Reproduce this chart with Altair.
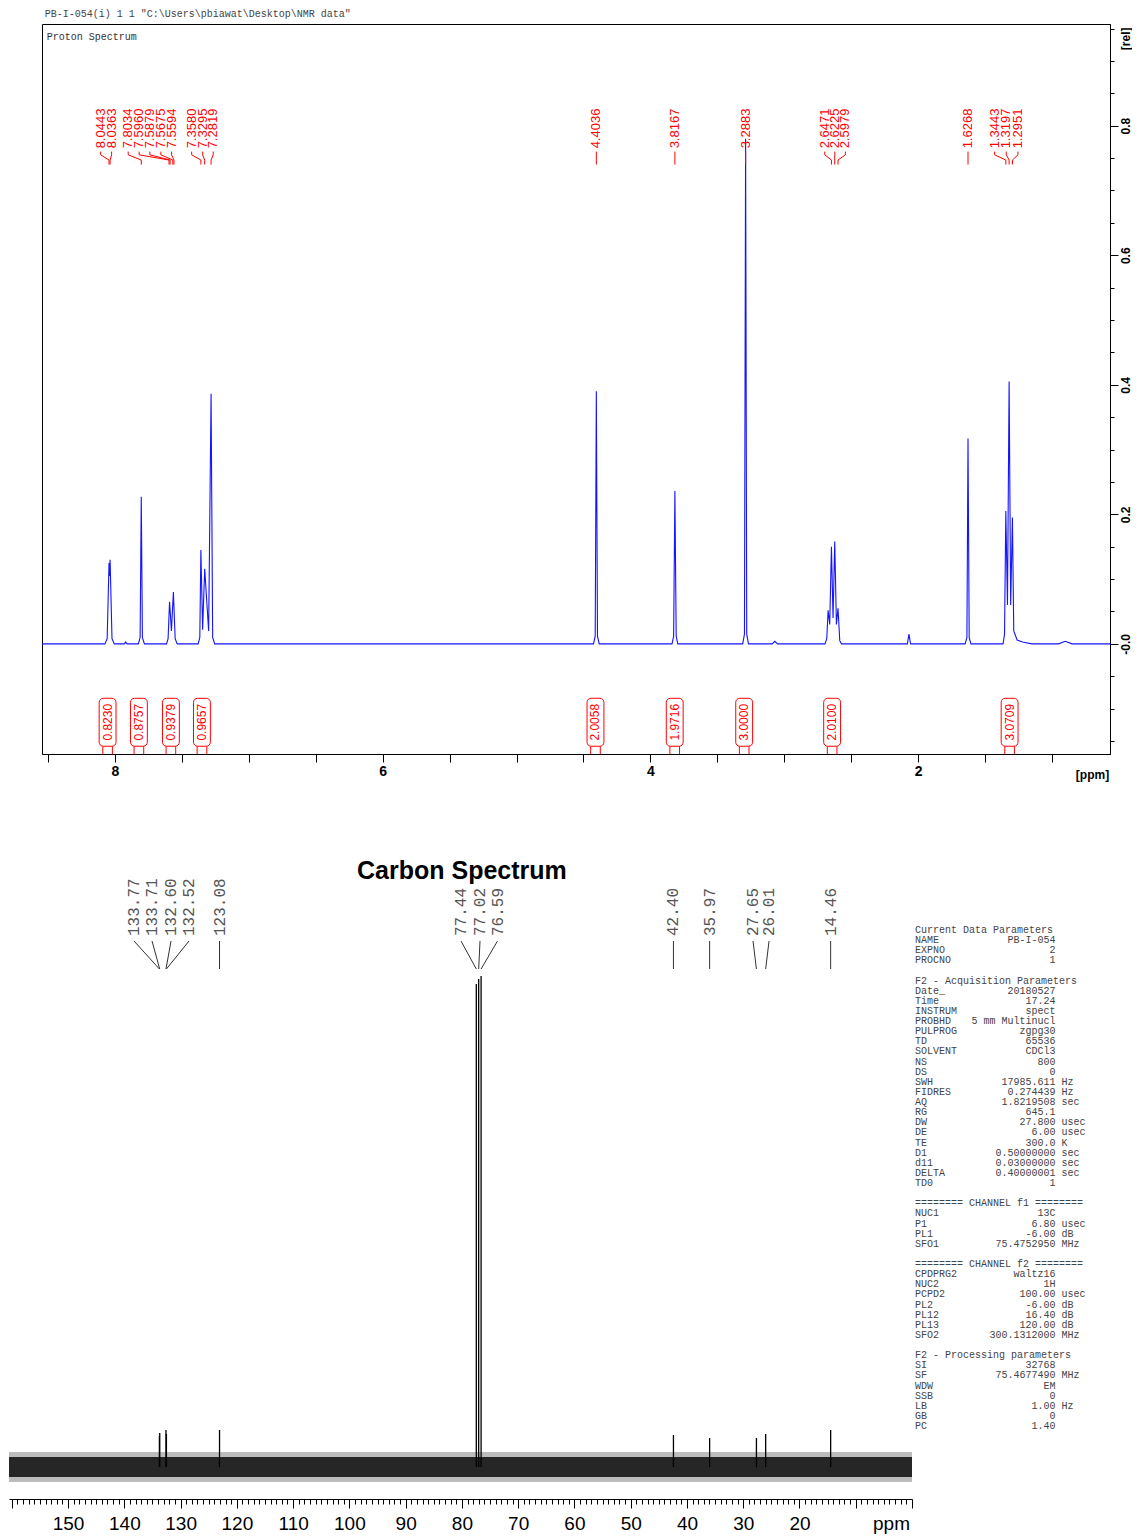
import altair as alt
import pandas as pd

# ---------------- Proton (1H) spectrum ----------------
# trace vertices (ppm, relative intensity)
h_trace_ppm = [8.545, 8.075, 8.058, 8.0443, 8.0403, 8.0363, 8.022, 8.005, 7.93, 7.92, 7.91,
               7.825, 7.812, 7.8034, 7.795, 7.78, 7.615, 7.603, 7.592, 7.578, 7.5635, 7.550, 7.535,
               7.378, 7.366, 7.358, 7.345, 7.3295, 7.300, 7.2819, 7.270, 7.255,
               4.425, 4.412, 4.4036, 4.395, 4.382, 3.838, 3.826, 3.8167, 3.807, 3.795,
               3.310, 3.297, 3.2883, 3.280, 3.267, 3.09, 3.07, 3.05,
               2.695, 2.682, 2.672, 2.660, 2.6471, 2.635, 2.6225, 2.610, 2.5979, 2.585, 2.572,
               2.080, 2.068, 2.056, 1.648, 1.635, 1.6268, 1.618, 1.605,
               1.365, 1.354, 1.3443, 1.332, 1.3197, 1.308, 1.2951, 1.285, 1.26, 1.22, 1.15,
               0.95, 0.90, 0.85, 0.56]
h_trace_int = [0.0, 0.0, 0.008, 0.125, 0.105, 0.130, 0.008, 0.0, 0.0, 0.003, 0.0,
               0.0, 0.010, 0.227, 0.010, 0.0, 0.0, 0.008, 0.065, 0.020, 0.080, 0.008, 0.0,
               0.0, 0.010, 0.145, 0.022, 0.116, 0.020, 0.386, 0.010, 0.0,
               0.0, 0.012, 0.390, 0.012, 0.0, 0.0, 0.012, 0.236, 0.012, 0.0,
               0.0, 0.015, 0.780, 0.015, 0.0, 0.0, 0.004, 0.0,
               0.0, 0.008, 0.052, 0.030, 0.150, 0.040, 0.158, 0.030, 0.055, 0.005, 0.0,
               0.0, 0.015, 0.0, 0.0, 0.010, 0.317, 0.010, 0.0,
               0.0, 0.015, 0.205, 0.060, 0.405, 0.060, 0.195, 0.020, 0.006, 0.003, 0.0,
               0.0, 0.004, 0.0, 0.0]

h_label_text = ["8.0443", "8.0363", "7.8034", "7.5960", "7.5879", "7.5675", "7.5594",
                "7.3580", "7.3295", "7.2819", "4.4036", "3.8167", "3.2883",
                "2.6471", "2.6225", "2.5979", "1.6268", "1.3443", "1.3197", "1.2951"]
h_label_ppm = [8.107, 8.025, 7.901, 7.819, 7.739, 7.657, 7.577,
               7.427, 7.345, 7.266, 4.4036, 3.8167, 3.2883,
               2.697, 2.622, 2.543, 1.6268, 1.428, 1.341, 1.254]

h_int_text = ["0.8230", "0.8757", "0.9379", "0.9657", "2.0058", "1.9716", "3.0000", "2.0100", "3.0709"]
h_int_ppm = [8.055, 7.821, 7.582, 7.350, 4.410, 3.818, 3.299, 2.642, 1.316]

h_xticks = [1.0, 1.5, 2.0, 2.5, 3.0, 3.5, 4.0, 4.5, 5.0, 5.5, 6.0, 6.5, 7.0, 7.5, 8.0, 8.5]
h_yticks = [-0.15, -0.1, -0.05, 0.0, 0.05, 0.1, 0.15, 0.2, 0.25, 0.3, 0.35, 0.4, 0.45,
            0.5, 0.55, 0.6, 0.65, 0.7, 0.75, 0.8, 0.85, 0.9, 0.95]

header_text = r'PB-I-054(i)  1  1  "C:\Users\pbiawat\Desktop\NMR data"'

# ---------------- Carbon (13C) spectrum ----------------
c_peak_ppm = [133.77, 133.71, 132.60, 132.52, 123.08, 77.44, 77.02, 76.59, 42.40, 35.97, 27.65, 26.01, 14.46]
c_peak_int = [6.2, 6.8, 7.4, 6.6, 7.4, 96.6, 97.6, 98.2, 6.4, 5.8, 5.8, 6.6, 7.4]
c_label_text = ["133.77", "133.71", "132.60", "132.52", "123.08", "77.44", "77.02", "76.59",
                "42.40", "35.97", "27.65", "26.01", "14.46"]
c_label_ppm = [138.28, 135.08, 131.70, 128.50, 123.08, 80.16, 76.78, 73.67,
               42.40, 35.97, 28.26, 25.41, 14.46]
c_noise_core = 2.0
c_noise_spikes = 3.0

# ---------------- acquisition parameters ----------------
p_name = ["Current Data Parameters", "NAME", "EXPNO", "PROCNO", "",
          "F2 - Acquisition Parameters", "Date_", "Time", "INSTRUM", "PROBHD", "PULPROG", "TD",
          "SOLVENT", "NS", "DS", "SWH", "FIDRES", "AQ", "RG", "DW", "DE", "TE", "D1", "d11",
          "DELTA", "TD0", "",
          "======== CHANNEL f1 ========", "NUC1", "P1", "PL1", "SFO1", "",
          "======== CHANNEL f2 ========", "CPDPRG2", "NUC2", "PCPD2", "PL2", "PL12", "PL13", "SFO2", "",
          "F2 - Processing parameters", "SI", "SF", "WDW", "SSB", "LB", "GB", "PC"]
p_value = ["", "PB-I-054", "2", "1", "",
           "", "20180527", "17.24", "spect", "5 mm Multinucl", "zgpg30", "65536",
           "CDCl3", "800", "0", "17985.611", "0.274439", "1.8219508", "645.1", "27.800", "6.00", "300.0",
           "0.50000000", "0.03000000", "0.40000001", "1", "",
           "", "13C", "6.80", "-6.00", "75.4752950", "",
           "", "waltz16", "1H", "100.00", "-6.00", "16.40", "120.00", "300.1312000", "",
           "", "32768", "75.4677490", "EM", "0", "1.00", "0", "1.40"]
p_unit = ["", "", "", "", "",
          "", "", "", "", "", "", "",
          "", "", "", "Hz", "Hz", "sec", "", "usec", "usec", "K",
          "sec", "sec", "sec", "", "",
          "", "", "usec", "dB", "MHz", "",
          "", "", "", "usec", "dB", "dB", "dB", "MHz", "",
          "", "", "MHz", "", "", "Hz", "", ""]

# ======================================================
RED = "#ff0000"
MONO = "Liberation Mono"
NARROW = "Liberation Sans Narrow, Liberation Sans, Arial"

# ---- proton chart ----
h_xaxis = alt.Axis(values=h_xticks, labelExpr="datum.value % 2 === 0 ? format(datum.value, 'd') : ''",
                   tickSize=8, tickColor="black", domainColor="black", labelColor="black",
                   labelFont=NARROW, labelFontSize=14, labelFontWeight="bold", labelPadding=2,
                   labelOverlap=False, labelFlush=False, grid=False,
                   title="[ppm]", titleX=1050, titleY=15, titleAlign="center", titleBaseline="top",
                   titleFont=NARROW, titleFontSize=12, titleFontWeight="bold", titleColor="black")
h_yaxis = alt.Axis(orient="right", values=h_yticks,
                   labelExpr="(abs(datum.value*5 - round(datum.value*5)) < 0.001 && datum.value >= 0) ? (datum.value == 0 ? '-0.0' : format(datum.value, '.1f')) : ''",
                   tickSize={"condition": {"test": "abs(datum.value*5 - round(datum.value*5)) < 0.001", "value": 8}, "value": 4},
                   tickColor="black", domainColor="black", labelColor="black",
                   labelAngle=270, labelAlign="center", labelBaseline="top", labelPadding=2,
                   labelFont=NARROW, labelFontSize=12, labelFontWeight="bold",
                   labelOverlap=False, labelFlush=False, grid=False,
                   title="[rel]", titleAngle=270, titleX=10, titleY=3, titleAlign="right",
                   titleBaseline="top", titleFont=NARROW, titleFontSize=12, titleFontWeight="bold",
                   titleColor="black")
h_xscale = alt.Scale(domain=[8.545, 0.566], nice=False, zero=False)
h_yscale = alt.Scale(domain=[-0.17, 0.957], nice=False, zero=False)


def hX(f):
    return alt.X(f"{f}:Q", scale=h_xscale, axis=h_xaxis)


def hY(f):
    return alt.Y(f"{f}:Q", scale=h_yscale, axis=h_yaxis)


h_trace = pd.DataFrame({"ppm": h_trace_ppm, "v": h_trace_int})
line_h = alt.Chart(h_trace).mark_line(color="#1414ff", strokeWidth=1.1).encode(x=hX("ppm"), y=hY("v"))

conn_rows = []
for i, (t, lp) in enumerate(zip(h_label_text, h_label_ppm)):
    pk = float(t)
    for k, (xx, yy) in enumerate([(lp, 0.760), (lp, 0.755), (pk, 0.747), (pk, 0.740)]):
        conn_rows.append({"id": i, "k": k, "ppm": xx, "v": yy})
conn_h = alt.Chart(pd.DataFrame(conn_rows)).mark_line(color=RED, strokeWidth=1).encode(
    x=hX("ppm"), y=hY("v"), detail="id:N", order="k:Q")

lab_h = alt.Chart(pd.DataFrame({"ppm": h_label_ppm, "v": [0.765] * len(h_label_ppm), "t": h_label_text})).mark_text(
    angle=270, align="left", baseline="middle", color=RED, font="Liberation Sans", fontSize=13
).encode(x=hX("ppm"), y=hY("v"), text="t:N")

int_df = pd.DataFrame({"c": h_int_ppm, "t": h_int_text})
int_df["x0"] = int_df["c"] + 0.063
int_df["x1"] = int_df["c"] - 0.063
int_df["y0"] = -0.158
int_df["y1"] = -0.084
int_df["ym"] = -0.121
box_h = alt.Chart(int_df).mark_rect(fillOpacity=0, stroke=RED, strokeWidth=1, cornerRadius=4).encode(
    x=hX("x0"), x2="x1", y=hY("y0"), y2="y1")
leg_rows = []
for c in h_int_ppm:
    for d in (0.036, -0.036):
        leg_rows.append({"ppm": c + d, "a": -0.158, "b": -0.170})
legs_h = alt.Chart(pd.DataFrame(leg_rows)).mark_rule(color=RED, strokeWidth=1).encode(
    x=hX("ppm"), y=hY("a"), y2="b")
itext_h = alt.Chart(int_df).mark_text(angle=270, align="center", baseline="middle", color=RED,
                                      font="Liberation Sans", fontSize=12).encode(
    x=hX("c"), y=hY("ym"), text="t:N")

ps_h = alt.Chart(pd.DataFrame({"ppm": [8.51], "v": [0.937], "t": ["Proton Spectrum"]})).mark_text(
    align="left", baseline="middle", font=MONO, fontSize=10, color="#333").encode(
    x=hX("ppm"), y=hY("v"), text="t:N")

proton = alt.layer(line_h, box_h, legs_h, itext_h, conn_h, lab_h, ps_h).properties(
    width=1068, height=730,
    view=alt.ViewBackground(stroke="black", strokeWidth=1),
    title=alt.TitleParams(header_text, anchor="start", dx=5, offset=5, font=MONO, fontSize=10,
                          fontWeight="normal", color="#444"))

spacer = alt.Chart(pd.DataFrame({"a": [0]})).mark_rect(opacity=0).encode(
    x=alt.value(0), x2=alt.value(29), y=alt.value(0), y2=alt.value(5)).properties(width=29, height=5)

row1 = alt.hconcat(spacer, proton, spacing=0)

# ---- carbon chart ----
c_xaxis = alt.Axis(values=list(range(0, 161)),
                   labelExpr="(datum.value % 10 === 0 && datum.value >= 20 && datum.value <= 150) ? datum.label : ''",
                   tickSize={"condition": {"test": "datum.value % 10 === 0", "value": 9}, "value": 5},
                   tickColor="black", domainColor="black", labelColor="black",
                   labelFont=NARROW, labelFontSize=19, labelPadding=6,
                   labelOverlap=False, labelFlush=False, grid=False,
                   title="ppm", titleX=882, titleY=15, titleAlign="center", titleBaseline="top",
                   titleFont=NARROW, titleFontSize=19, titleFontWeight="normal", titleColor="black")
c_xscale = alt.Scale(domain=[160.5, 0], nice=False, zero=False)
c_yscale = alt.Scale(domain=[-6.4, 123.6], nice=False, zero=False)


def cX(f):
    return alt.X(f"{f}:Q", scale=c_xscale, axis=c_xaxis)


def cY(f):
    return alt.Y(f"{f}:Q", scale=c_yscale, axis=None)


band_df = pd.DataFrame({"ppm": [160.5, 0.0],
                        "lo": [-c_noise_core] * 2, "hi": [c_noise_core] * 2,
                        "lo2": [-c_noise_spikes] * 2, "hi2": [c_noise_spikes] * 2})
band2 = alt.Chart(band_df).mark_area(color="#222222", opacity=0.3).encode(x=cX("ppm"), y=cY("lo2"), y2="hi2")
band = alt.Chart(band_df).mark_area(color="#111111", opacity=0.88).encode(x=cX("ppm"), y=cY("lo"), y2="hi")
peaks_c = alt.Chart(pd.DataFrame({"ppm": c_peak_ppm, "b": [0.0] * len(c_peak_ppm), "v": c_peak_int})).mark_rule(
    color="black", strokeWidth=1.3).encode(x=cX("ppm"), y=cY("b"), y2="v")

fan_rows = []
for i, (lp, pk) in enumerate(zip(c_label_ppm, c_peak_ppm)):
    fan_rows.append({"id": i, "k": 0, "ppm": lp, "v": 105.2})
    fan_rows.append({"id": i, "k": 1, "ppm": pk, "v": 99.6})
fan_c = alt.Chart(pd.DataFrame(fan_rows)).mark_line(color="#333", strokeWidth=1).encode(
    x=cX("ppm"), y=cY("v"), detail="id:N", order="k:Q")
lab_c = alt.Chart(pd.DataFrame({"ppm": c_label_ppm, "v": [106.2] * len(c_label_ppm), "t": c_label_text})).mark_text(
    angle=270, align="left", baseline="middle", font=MONO, fontSize=16, color="#555").encode(
    x=cX("ppm"), y=cY("v"), text="t:N")
ctitle = alt.Chart(pd.DataFrame({"ppm": [80.0], "v": [117.6], "t": ["Carbon Spectrum"]})).mark_text(
    align="center", baseline="alphabetic", font="Liberation Sans", fontSize=25, fontWeight="bold",
    color="black").encode(x=cX("ppm"), y=cY("v"), text="t:N")

carbon = alt.layer(band2, band, peaks_c, fan_c, lab_c, ctitle).properties(width=903, height=650)

# ---- parameter block ----
p_df = pd.DataFrame({"line": list(range(len(p_name))), "name": p_name, "value": p_value, "unit": p_unit})
p_df["xn"] = 0.0
p_df["xv"] = 23.0
p_df["xu"] = 24.0
pX = alt.Scale(domain=[0, 28.5], nice=False, zero=False)
pY = alt.Scale(domain=[56.2, -8.0], nice=False, zero=False)
ptxt = dict(baseline="middle", font=MONO, fontSize=10, color="#444")
p_names = alt.Chart(p_df).mark_text(align="left", **ptxt).encode(
    x=alt.X("xn:Q", scale=pX, axis=None), y=alt.Y("line:Q", scale=pY, axis=None), text="name:N")
p_vals = alt.Chart(p_df).mark_text(align="right", **ptxt).encode(
    x=alt.X("xv:Q", scale=pX, axis=None), y=alt.Y("line:Q", scale=pY, axis=None), text="value:N")
p_units = alt.Chart(p_df).mark_text(align="left", **ptxt).encode(
    x=alt.X("xu:Q", scale=pX, axis=None), y=alt.Y("line:Q", scale=pY, axis=None), text="unit:N")
params = alt.layer(p_names, p_vals, p_units).properties(width=174, height=650)

row2 = alt.hconcat(carbon, params, spacing=1)

chart = alt.vconcat(row1, row2, spacing=67).properties(padding=0, background="white").configure_view(
    stroke="transparent")

chart.save("out.html", embed_options={"renderer": "svg", "actions": False})
